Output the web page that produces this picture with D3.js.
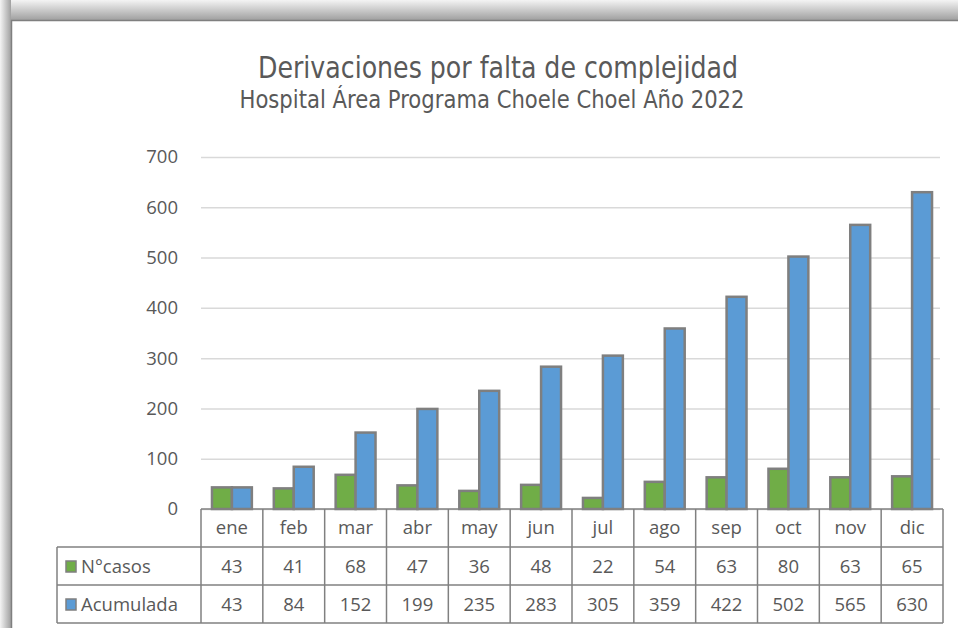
<!DOCTYPE html>
<html>
<head>
<meta charset="utf-8">
<script src="https://cdn.jsdelivr.net/npm/d3@7"></script>
<style>
  body { margin: 0; background: #fff; }
  svg text { fill: #595959; }
</style>
</head>
<body>
<script>
// data
var months = ['ene', 'feb', 'mar', 'abr', 'may', 'jun', 'jul', 'ago', 'sep', 'oct', 'nov', 'dic'];
var casos = [43, 41, 68, 47, 36, 48, 22, 54, 63, 80, 63, 65];
var acumulada = [43, 84, 152, 199, 235, 283, 305, 359, 422, 502, 565, 630];
var seriesNames = ['N°casos', 'Acumulada'];
var yTicks = [0, 100, 200, 300, 400, 500, 600, 700];

var colors = { 'N°casos': '#70ad47', 'Acumulada': '#5b9bd5' };
var values = { 'N°casos': casos, 'Acumulada': acumulada };

var W = 958, H = 628;
var plotLeft = 201, plotRight = 943, plotTop = 157, base = 509;
var rowH = 38;
var legendLeft = 57;
var font = '"Open Sans", sans-serif';
var titleFont = '"DejaVu Sans Condensed", "DejaVu Sans", sans-serif';

var svg = d3.select('body').append('svg')
  .attr('width', W).attr('height', H);

// shadow round the frame
var defs = svg.append('defs');
var gTop = defs.append('linearGradient').attr('id', 'shTop')
  .attr('x1', 0).attr('y1', 0).attr('x2', 0).attr('y2', 1);
gTop.append('stop').attr('offset', '0%').attr('stop-color', '#f4f4f4');
gTop.append('stop').attr('offset', '100%').attr('stop-color', '#a0a0a0');
var gLeft = defs.append('linearGradient').attr('id', 'shLeft')
  .attr('x1', 0).attr('y1', 0).attr('x2', 1).attr('y2', 0);
gLeft.append('stop').attr('offset', '0%').attr('stop-color', '#f4f4f4');
gLeft.append('stop').attr('offset', '100%').attr('stop-color', '#a0a0a0');

svg.append('rect').attr('x', 0).attr('y', 0).attr('width', W).attr('height', 20)
  .attr('fill', 'url(#shTop)');
svg.append('rect').attr('x', 0).attr('y', 0).attr('width', 11).attr('height', H)
  .attr('fill', 'url(#shLeft)');
svg.append('rect').attr('x', 11).attr('y', 20).attr('width', W - 11).attr('height', H - 20)
  .attr('fill', '#fff');
svg.append('path').attr('d', 'M11.5,' + H + 'V20.5H' + W)
  .attr('fill', 'none').attr('stroke', '#7f7f7f').attr('stroke-width', 1.5);

// titles
svg.append('text')
  .attr('x', 498).attr('y', 78)
  .attr('text-anchor', 'middle')
  .attr('textLength', 480).attr('lengthAdjust', 'spacingAndGlyphs')
  .style('font-family', titleFont).style('font-stretch', 'condensed')
  .style('font-size', '31px')
  .text('Derivaciones por falta de complejidad');
svg.append('text')
  .attr('x', 492).attr('y', 108)
  .attr('text-anchor', 'middle')
  .attr('textLength', 505).attr('lengthAdjust', 'spacingAndGlyphs')
  .style('font-family', titleFont).style('font-stretch', 'condensed')
  .style('font-size', '24px')
  .text('Hospital Área Programa Choele Choel Año 2022');

// scales
var x = d3.scaleBand().domain(months).range([plotLeft, plotRight]);
var x1 = d3.scaleBand().domain(seriesNames).range([0, x.bandwidth()]).paddingOuter(0.55);
var y = d3.scaleLinear().domain([0, 700]).range([base, plotTop]);

// gridlines and y axis
var yAxis = d3.axisLeft(y).tickValues(yTicks).tickSize(-(plotRight - 3 - plotLeft)).tickPadding(23);
var gy = svg.append('g').attr('transform', 'translate(' + plotLeft + ',0)').call(yAxis);
gy.select('.domain').remove();
gy.selectAll('line').attr('stroke', '#d9d9d9').attr('stroke-width', 1.5);
gy.selectAll('text').style('font-family', font).style('font-size', '18.5px').attr('fill', '#595959');

// bars
var groups = svg.append('g').selectAll('g')
  .data(months)
  .enter().append('g')
  .attr('transform', function(d) { return 'translate(' + x(d) + ',0)'; });

groups.selectAll('rect')
  .data(function(d, i) {
    return seriesNames.map(function(s) { return { s: s, v: values[s][i] }; });
  })
  .enter().append('rect')
  .attr('x', function(d) { return x1(d.s); })
  .attr('y', function(d) { return y(d.v); })
  .attr('width', x1.bandwidth())
  .attr('height', function(d) { return base - y(d.v); })
  .attr('fill', function(d) { return colors[d.s]; })
  .attr('stroke', '#7f7f7f')
  .attr('stroke-width', 2.5);

// data table
var table = svg.append('g');
var lineColor = '#808080';

// horizontal lines
table.append('line').attr('x1', plotLeft).attr('x2', plotRight).attr('y1', base).attr('y2', base)
  .attr('stroke', lineColor).attr('stroke-width', 1.5);
[1, 2, 3].forEach(function(r) {
  table.append('line').attr('x1', legendLeft).attr('x2', plotRight)
    .attr('y1', base + r * rowH).attr('y2', base + r * rowH)
    .attr('stroke', lineColor).attr('stroke-width', 1.5);
});
// vertical lines
table.append('line').attr('x1', legendLeft).attr('x2', legendLeft)
  .attr('y1', base + rowH).attr('y2', base + 3 * rowH)
  .attr('stroke', lineColor).attr('stroke-width', 1.5);
months.concat(['end']).forEach(function(m, i) {
  var xx = i < months.length ? x(m) : plotRight;
  table.append('line').attr('x1', xx).attr('x2', xx)
    .attr('y1', base).attr('y2', base + 3 * rowH)
    .attr('stroke', lineColor).attr('stroke-width', 1.5);
});

// month labels
table.selectAll('.month')
  .data(months)
  .enter().append('text')
  .attr('class', 'month')
  .attr('x', function(d) { return x(d) + x.bandwidth() / 2; })
  .attr('y', base + rowH / 2 + 6)
  .attr('text-anchor', 'middle')
  .style('font-family', font).style('font-size', '18.5px')
  .text(function(d) { return d; });

seriesNames.forEach(function(s, r) {
  var rowY = base + (r + 1) * rowH;
  table.selectAll('.val' + r)
    .data(values[s])
    .enter().append('text')
    .attr('class', 'val' + r)
    .attr('x', function(d, i) { return x(months[i]) + x.bandwidth() / 2; })
    .attr('y', rowY + rowH / 2 + 7)
    .attr('text-anchor', 'middle')
    .style('font-family', font).style('font-size', '18.5px')
    .text(function(d) { return d; });

  // legend key
  table.append('rect')
    .attr('x', legendLeft + 9).attr('y', rowY + 14)
    .attr('width', 10).attr('height', 11)
    .attr('fill', colors[s]).attr('stroke', '#7f7f7f').attr('stroke-width', 1.5);
  table.append('text')
    .attr('x', legendLeft + 24).attr('y', rowY + rowH / 2 + 7)
    .style('font-family', font).style('font-size', '18.5px')
    .text(s);
});
</script>
</body>
</html>
